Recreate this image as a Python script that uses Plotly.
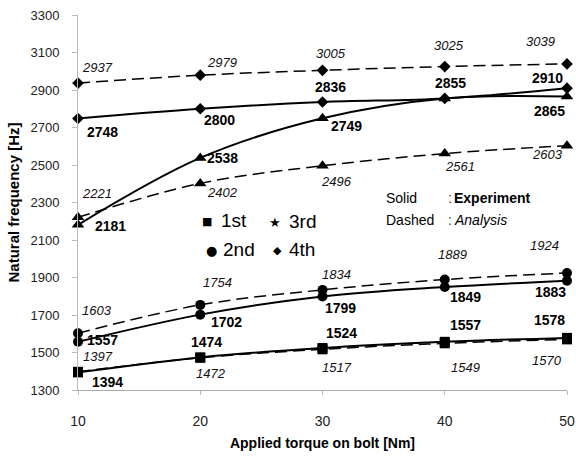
import plotly.graph_objects as go

torque = [10, 20, 30, 40, 50]

exp_1st = [1394, 1474, 1524, 1557, 1578]
ana_1st = [1397, 1472, 1517, 1549, 1570]
exp_2nd = [1557, 1702, 1799, 1849, 1883]
ana_2nd = [1603, 1754, 1834, 1889, 1924]
exp_3rd = [2181, 2538, 2749, 2855, 2865]
ana_3rd = [2221, 2402, 2496, 2561, 2603]
exp_4th = [2748, 2800, 2836, 2855, 2910]
ana_4th = [2937, 2979, 3005, 3025, 3039]

y_ticks = [1300, 1500, 1700, 1900, 2100, 2300, 2500, 2700, 2900, 3100, 3300]
mode_names = ["1st", "2nd", "3rd", "4th"]

FONT = "Liberation Sans, Arial, sans-serif"

# label offsets in pixels (dx right, dy down); None = no label
off_exp_1st = [(29, 10), (6, -15), (19, -15), (21, -17), (-18, -18)]
off_ana_1st = [(20, -15), (11, 16), (14, 18), (21, 24), (-20, 21)]
off_exp_2nd = [(24, -2), (26, 7), (18, 12), (21, 10), (-17, 11)]
off_ana_2nd = [(19, -23), (17, -22), (14, -15), (8, -25), (-23, -28)]
off_exp_3rd = [(32, 1), (22, 0), (24, 8), None, (-18, 14)]
off_ana_3rd = [(19, -24), (22, 9), (14, 16), (15, 13), (-20, 9)]
off_exp_4th = [(24, 13), (19, 11), (8, -15), (6, -15), (-20, -10)]
off_ana_4th = [(19, -16), (22, -13), (8, -17), (4, -21), (-27, -22)]

series = [
    (exp_1st, ana_1st, "square", 10, off_exp_1st, off_ana_1st),
    (exp_2nd, ana_2nd, "circle", 10, off_exp_2nd, off_ana_2nd),
    (exp_3rd, ana_3rd, "triangle-up", 11, off_exp_3rd, off_ana_3rd),
    (exp_4th, ana_4th, "diamond", 9, off_exp_4th, off_ana_4th),
]

fig = go.Figure()
annotations = []

for name, (ev, av, sym, msz, oe, oa) in zip(mode_names, series):
    fig.add_trace(go.Scatter(
        x=torque, y=av, mode="lines+markers", name=name + " analysis",
        line=dict(color="black", width=1.5, dash="12px,6px", shape="spline"),
        marker=dict(symbol=sym, size=msz, color="black"),
        cliponaxis=False, showlegend=False))
    fig.add_trace(go.Scatter(
        x=torque, y=ev, mode="lines+markers", name=name + " experiment",
        line=dict(color="black", width=2, shape="spline"),
        marker=dict(symbol=sym, size=msz, color="black"),
        cliponaxis=False, showlegend=False))
    for xv, yv, o in zip(torque, ev, oe):
        if o is None:
            continue
        annotations.append(dict(x=xv, y=yv, xref="x", yref="y", text="<b>%d</b>" % yv,
                                showarrow=False, xshift=o[0], yshift=-o[1],
                                font=dict(family=FONT, size=14, color="black")))
    for xv, yv, o in zip(torque, av, oa):
        if o is None:
            continue
        annotations.append(dict(x=xv, y=yv, xref="x", yref="y", text="<i>%d</i>" % yv,
                                showarrow=False, xshift=o[0], yshift=-o[1],
                                font=dict(family=FONT, size=13, color="#111")))

# paper-coordinate helpers for the plot area (left 78, right 567, top 15, bottom 390)
L, R, T, B = 78, 567, 15, 390
def px(xp):
    return (xp - L) / (R - L)
def py(yp):
    return (B - yp) / (B - T)

# legend of modes (2x2)
legend_items = [
    ("■", 11, 207, 221, "1st", 219),
    ("★", 13, 275, 222, "3rd", 287),
    ("●", 13, 211, 250, "2nd", 221),
    ("◆", 11, 277, 250, "4th", 287),
]
for sym, ssz, sx, sy, txt, tx in legend_items:
    annotations.append(dict(x=px(sx), y=py(sy), xref="paper", yref="paper", text=sym,
                            showarrow=False, xanchor="center", yanchor="middle",
                            font=dict(family="DejaVu Sans", size=ssz, color="black")))
    annotations.append(dict(x=px(tx), y=py(sy - 1), xref="paper", yref="paper", text=txt,
                            showarrow=False, xanchor="left", yanchor="middle",
                            font=dict(family=FONT, size=19, color="black")))

# line-style key
key_items = [("Solid", "<b>Experiment</b>", 198), ("Dashed", "<i>Analysis</i>", 220)]
for a, b, yy in key_items:
    annotations.append(dict(x=px(384), y=py(yy), xref="paper", yref="paper", text=a,
                            showarrow=False, xanchor="left", yanchor="middle",
                            font=dict(family=FONT, size=14, color="black")))
    annotations.append(dict(x=px(446), y=py(yy), xref="paper", yref="paper", text=":",
                            showarrow=False, xanchor="left", yanchor="middle",
                            font=dict(family=FONT, size=14, color="#444")))
    annotations.append(dict(x=px(452), y=py(yy), xref="paper", yref="paper", text=b,
                            showarrow=False, xanchor="left", yanchor="middle",
                            font=dict(family=FONT, size=14, color="black")))

fig.update_layout(
    width=576, height=458,
    margin=dict(l=L, r=576 - R, t=T, b=458 - B),
    paper_bgcolor="white", plot_bgcolor="white",
    font=dict(family=FONT, color="black"),
    annotations=annotations,
    showlegend=False,
)
fig.update_xaxes(
    range=[10, 50], tickvals=torque, ticktext=[str(t) for t in torque],
    automargin=False,
    showgrid=False, zeroline=False, showline=True, linecolor="#aaaaaa", linewidth=1,
    ticks="outside", ticklen=4, tickcolor="#bbbbbb", ticklabelstandoff=14,
    ticklabeloverflow="allow",
    tickfont=dict(family=FONT, size=14, color="#222"),
    title=dict(text="<b>Applied torque on bolt [Nm]</b>", standoff=10,
               font=dict(family=FONT, size=14, color="black")),
)
fig.update_yaxes(
    range=[1300, 3300], tickvals=y_ticks, ticktext=[str(v) for v in y_ticks],
    automargin=False,
    showgrid=False, zeroline=False, showline=True, linecolor="#bbbbbb", linewidth=1,
    ticks="outside", ticklen=5, tickcolor="#bbbbbb", ticklabelstandoff=10,
    tickfont=dict(family=FONT, size=13, color="#222"),
    title=dict(text="<b>Natural frequency [Hz]</b>", standoff=7,
               font=dict(family=FONT, size=15, color="black")),
)

fig.write_html("out.html", config={"displayModeBar": False},
               post_script="document.body.style.margin='0px';document.body.style.overflow='hidden';")
